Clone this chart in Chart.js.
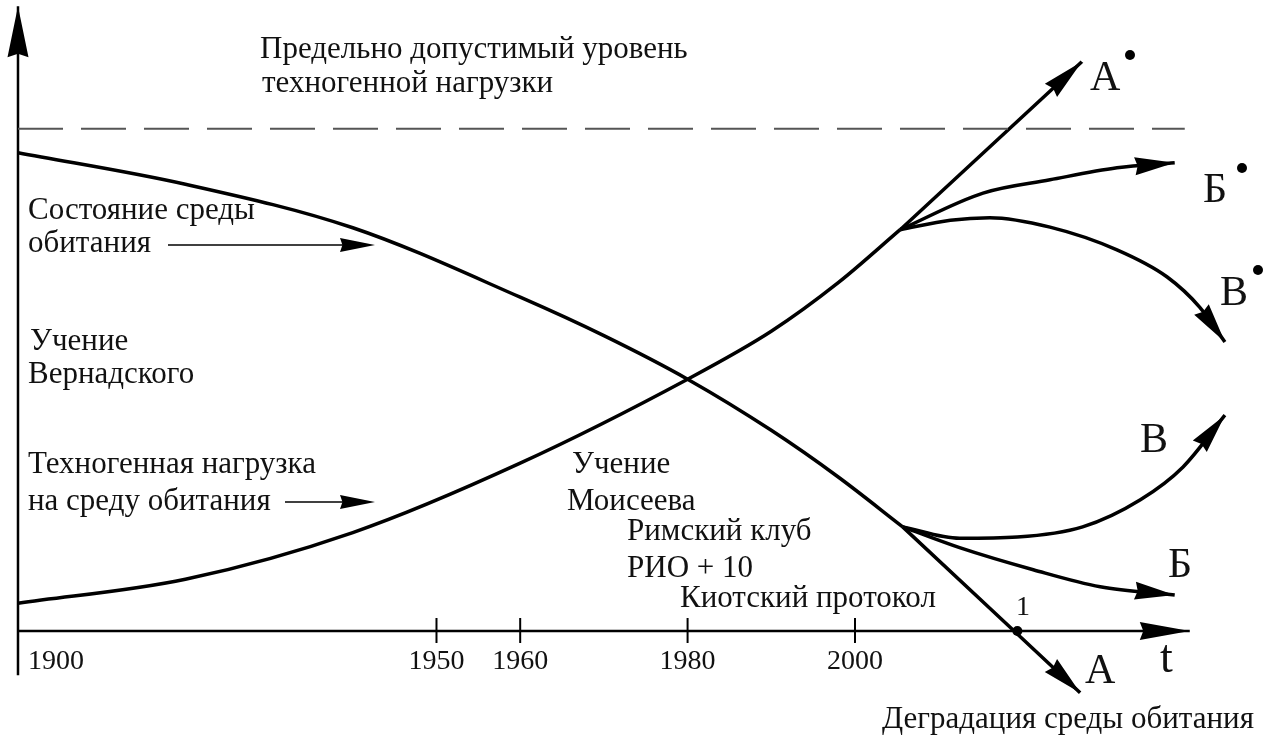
<!DOCTYPE html>
<html lang="ru">
<head>
    <meta charset="UTF-8">
    <title>Техногенная нагрузка и состояние среды обитания</title>
    <script src="https://cdn.jsdelivr.net/npm/chart.js"></script>
    <style>
        body { margin: 0; background: #fff; }
    </style>
</head>
<body>
    <canvas id="schemeChart" width="1280" height="739"></canvas>

    <script>
        // Состояние среды обитания (убывающая кривая)
        const stateYears = [1900, 1920, 1940, 1960, 1970, 1980, 1990, 1998, 2005.7];
        const stateValues = [75.8, 70.8, 63.9, 52.9, 46.8, 39.9, 31.8, 24.4, 16.5];

        // Техногенная нагрузка (возрастающая кривая)
        const loadYears = [1900, 1920, 1940, 1960, 1980, 1990, 1998, 2005.4];
        const loadValues = [4.4, 8.2, 15.6, 26.6, 39.9, 47.5, 55.2, 63.6];

        // сценарии нагрузки: А*, Б*, В*
        const loadAYears = [2005.4, 2027.1];
        const loadAValues = [63.6, 90.2];
        const loadBYears = [2005.4, 2015.3, 2023.3, 2031.3, 2038.2];
        const loadBValues = [63.6, 69.4, 71.5, 73.4, 74.2];
        const loadVYears = [2005.4, 2011.4, 2016.1, 2023.3, 2031.3, 2037.3, 2041.2, 2044.2];
        const loadVValues = [63.6, 65.1, 65.5, 64.0, 60.4, 56.1, 51.3, 45.8];

        // сценарии среды: А, Б, В
        const stateAYears = [2005.7, 2026.9];
        const stateAValues = [16.5, -9.8];
        const stateBYears = [2005.7, 2012.5, 2021.3, 2029.3, 2038.2];
        const stateBValues = [16.5, 13.2, 9.7, 7.0, 5.7];
        const stateVYears = [2005.7, 2012.5, 2019.4, 2027.2, 2034.1, 2039.2, 2044.2];
        const stateVValues = [16.5, 14.7, 14.9, 16.5, 20.8, 26.0, 34.2];

        // предельно допустимый уровень
        const limitYears = [1900, 2039.4];
        const limitValue = 79.6;

        // оси
        const axisXYears = [1900, 2040];
        const axisYValues = [-7, 99];
        const tickYears = [1950, 1960, 1980, 2000];
        const tickLabels = ['1950', '1960', '1980', '2000'];
        const pointOne = { x: 2019.4, y: 0 };

        const pts = (xs, ys) => xs.map((x, i) => ({ x: x, y: ys[i] }));
        const FONT = "'Liberation Serif', 'DejaVu Serif', serif";

        function curve(xs, ys, arrow) {
            return {
                data: pts(xs, ys),
                borderColor: '#000',
                borderWidth: 3.5,
                cubicInterpolationMode: 'monotone',
                arrow: arrow
            };
        }

        function arrowHead(ctx, fromX, fromY, x, y, len, half) {
            const a = Math.atan2(y - fromY, x - fromX);
            ctx.save();
            ctx.translate(x, y);
            ctx.rotate(a);
            ctx.beginPath();
            ctx.moveTo(0, 0);
            ctx.lineTo(-len, -half);
            ctx.lineTo(-len * 0.93, 0);
            ctx.lineTo(-len, half);
            ctx.closePath();
            ctx.fillStyle = '#000';
            ctx.fill();
            ctx.restore();
        }

        const schemePlugin = {
            id: 'scheme',
            afterDatasetsDraw(chart) {
                const ctx = chart.ctx;
                const xs = chart.scales.x, ys = chart.scales.y;

                // наконечники стрелок на кривых и осях
                chart.data.datasets.forEach((ds, i) => {
                    if (!ds.arrow) return;
                    const els = chart.getDatasetMeta(i).data;
                    const last = els[els.length - 1];
                    const prev = els[els.length - 2];
                    let fx = prev.x, fy = prev.y;
                    if (last.cp1x !== undefined && Math.hypot(last.x - last.cp1x, last.y - last.cp1y) > 1) {
                        fx = last.cp1x; fy = last.cp1y;
                    }
                    arrowHead(ctx, fx, fy, last.x, last.y, ds.arrow[0], ds.arrow[1]);
                });

                // деления на оси времени
                const y0 = ys.getPixelForValue(0);
                ctx.strokeStyle = '#000';
                ctx.lineWidth = 2;
                tickYears.forEach(t => {
                    const px = xs.getPixelForValue(t);
                    ctx.beginPath();
                    ctx.moveTo(px, y0 - 13);
                    ctx.lineTo(px, y0 + 12);
                    ctx.stroke();
                });

                // точка 1
                ctx.beginPath();
                ctx.arc(xs.getPixelForValue(pointOne.x), ys.getPixelForValue(pointOne.y), 5, 0, Math.PI * 2);
                ctx.fillStyle = '#000';
                ctx.fill();

                ctx.fillStyle = '#111';
                ctx.textBaseline = 'alphabetic';

                // подписи делений
                ctx.font = '28px ' + FONT;
                ctx.textAlign = 'left';
                ctx.fillText('1900', 28, 669);
                ctx.textAlign = 'center';
                tickYears.forEach((t, i) => {
                    ctx.fillText(tickLabels[i], xs.getPixelForValue(t), 669);
                });

                // текстовые подписи
                ctx.textAlign = 'left';
                ctx.font = '31px ' + FONT;
                const notes = [
                    ['Предельно допустимый уровень', 260, 58],
                    ['техногенной нагрузки', 262, 92],
                    ['Состояние среды', 28, 219],
                    ['обитания', 28, 252],
                    ['Учение', 30, 350],
                    ['Вернадского', 28, 383],
                    ['Техногенная нагрузка', 28, 473],
                    ['на среду обитания', 28, 510],
                    ['Учение', 572, 473],
                    ['Моисеева', 567, 510],
                    ['Римский клуб', 627, 540],
                    ['РИО + 10', 627, 577],
                    ['Киотский протокол', 680, 607],
                    ['Деградация среды обитания', 882, 728]
                ];
                notes.forEach(n => ctx.fillText(n[0], n[1], n[2]));
                ctx.font = '28px ' + FONT;
                ctx.fillText('1', 1016, 615);

                ctx.font = '42px ' + FONT;
                ctx.fillText('А', 1090, 90);
                ctx.fillText('Б', 1203, 202);
                ctx.fillText('В', 1220, 305);
                ctx.fillText('В', 1140, 452);
                ctx.fillText('Б', 1168, 577);
                ctx.fillText('А', 1085, 683);
                ctx.font = '46px ' + FONT;
                ctx.fillText('t', 1160, 672);

                // точки у сценариев со звёздочкой
                [[1130, 55], [1242, 168], [1258, 270]].forEach(p => {
                    ctx.beginPath();
                    ctx.arc(p[0], p[1], 5, 0, Math.PI * 2);
                    ctx.fillStyle = '#000';
                    ctx.fill();
                });

                // стрелки-указатели от подписей
                ctx.strokeStyle = '#000';
                ctx.lineWidth = 1.5;
                [[168, 375, 245], [285, 375, 502]].forEach(a => {
                    ctx.beginPath();
                    ctx.moveTo(a[0], a[2]);
                    ctx.lineTo(a[1] - 20, a[2]);
                    ctx.stroke();
                    arrowHead(ctx, a[0], a[2], a[1], a[2], 35, 7);
                });
            }
        };

        const config = {
            type: 'line',
            data: {
                datasets: [
                    {
                        data: pts(limitYears, [limitValue, limitValue]),
                        borderColor: '#555',
                        borderWidth: 2,
                        borderDash: [45, 18]
                    },
                    {
                        data: pts(axisXYears, [0, 0]),
                        borderColor: '#000',
                        borderWidth: 2.5,
                        arrow: [50, 9]
                    },
                    {
                        data: pts([1900, 1900], axisYValues),
                        borderColor: '#000',
                        borderWidth: 2.5,
                        arrow: [51, 10.5]
                    },
                    curve(stateYears, stateValues),
                    curve(loadYears, loadValues),
                    curve(loadAYears, loadAValues, [42, 9]),
                    curve(loadBYears, loadBValues, [40, 9]),
                    curve(loadVYears, loadVValues, [40, 9]),
                    curve(stateAYears, stateAValues, [40, 9]),
                    curve(stateBYears, stateBValues, [40, 9]),
                    curve(stateVYears, stateVValues, [40, 9])
                ]
            },
            options: {
                responsive: false,
                animation: false,
                events: [],
                elements: { point: { radius: 0 } },
                layout: { padding: 0 },
                plugins: {
                    legend: { display: false },
                    tooltip: { enabled: false }
                },
                scales: {
                    x: { type: 'linear', min: 1897.85, max: 2050.78, display: false },
                    y: { type: 'linear', min: -17.12, max: 100, display: false }
                }
            },
            plugins: [schemePlugin]
        };

        new Chart(document.getElementById('schemeChart'), config);
    </script>
</body>
</html>
